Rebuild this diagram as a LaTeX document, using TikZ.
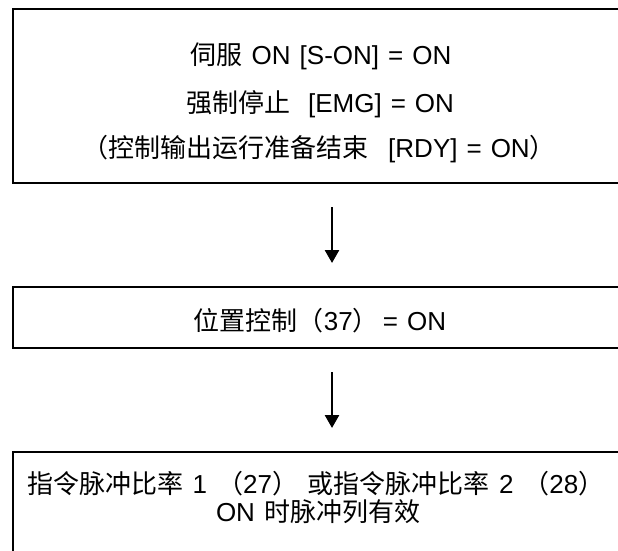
\documentclass[tikz,border=0pt]{standalone}
\usepackage{fontspec}
\setmainfont{Liberation Sans}
\newfontfamily\cjk{Noto Sans CJK SC}
\usetikzlibrary{arrows.meta}
\newcommand\zh[1]{{\cjk #1}}
\newcommand\gap{\hspace{9pt}}
\newcommand\lpar{\hspace{10pt}\zh{（}}
\newcommand\rpar{\zh{）}\hspace{10pt}}
\begin{document}
\begin{tikzpicture}[x=1pt,y=-1pt,
  box/.style={draw=black, line width=2pt, anchor=north west, inner sep=0pt, minimum width=700pt},
  txt/.style={anchor=base, inner sep=0pt, font=\fontsize{26}{30}\selectfont},
  arr/.style={line width=2.6pt, -{Triangle[length=13pt,width=14pt]}, shorten <=23pt, shorten >=23pt}]
\useasboundingbox (0,0) rectangle (618,551);
\clip (0,0) rectangle (618,551);
\node[box, minimum height=173.5pt] (b1) at (12,8.5) {};
\node[box, minimum height=61pt] (b2) at (12,286) {};
\node[box, minimum height=130pt] (b3) at (12,451) {};
\coordinate (ax) at (332,0);
\draw[arr] (b1.south -| ax) -- (b2.north -| ax);
\draw[arr] (b2.south -| ax) -- (b3.north -| ax);
\node[txt] (t1) at (321,64) {\zh{伺服}\gap ON\gap[S-ON]\gap=\gap ON};
\node[txt] (t2) at (320,112) {\zh{强制停止}\gap\gap[EMG]\gap=\gap ON};
\node[txt] (t3) at (319,157) {\zh{（控制输出运行准备结束}\hspace{20pt}[RDY]\gap=\gap ON\zh{）}};
\node[txt] (t4) at (320,330) {\zh{位置控制（}37\zh{）}\hspace{4pt}=\gap ON};
\node[txt] (t5) at (316,493) {\zh{指令脉冲比率}\gap 1\lpar 27\rpar\zh{或指令脉冲比率}\gap 2\lpar 28\zh{）}};
\node[txt] (t6) at (318,521) {ON\gap\zh{时脉冲列有效}};
\end{tikzpicture}
\end{document}
